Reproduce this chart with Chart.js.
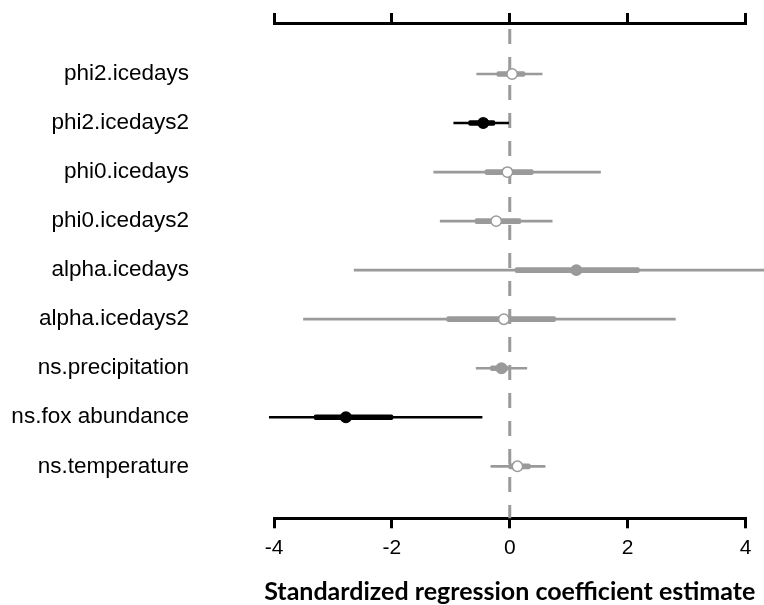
<!DOCTYPE html>
<html lang="en">
<head>
    <meta charset="UTF-8">
    <title>Coefficient estimates</title>
    <script src="https://cdn.jsdelivr.net/npm/chart.js@4.4.3/dist/chart.umd.min.js"></script>
    <style>
        html, body { margin: 0; padding: 0; background: #fff; }
        #chart { display: block; }
    </style>
</head>

<body>
    <canvas id="chart" width="764" height="605"></canvas>
    <script>
        // model terms, top to bottom
        const terms = ['phi2.icedays', 'phi2.icedays2', 'phi0.icedays', 'phi0.icedays2', 'alpha.icedays',
            'alpha.icedays2', 'ns.precipitation', 'ns.fox abundance', 'ns.temperature'];
        // posterior means
        const estimate = [0.04, -0.45, -0.04, -0.23, 1.13, -0.10, -0.14, -2.78, 0.13];
        // 95% credible intervals
        const lower95 = [-0.56, -0.95, -1.29, -1.18, -2.64, -3.50, -0.57, -4.08, -0.32];
        const upper95 = [0.55, -0.02, 1.54, 0.72, 4.40, 2.81, 0.29, -0.47, 0.60];
        // 50% credible intervals
        const lower50 = [-0.22, -0.70, -0.42, -0.59, 0.09, -1.07, -0.33, -3.32, -0.02];
        const upper50 = [0.26, -0.25, 0.40, 0.19, 2.20, 0.78, -0.03, -1.98, 0.35];
        const xTicks = [-4, -2, 0, 2, 4];
        const xTitle = 'Standardized regression coefficient estimate';

        const GREY = '#9a9a9a';

        function excludesZero(lo, hi) {
            return lo > 0 || hi < 0;
        }

        // black = 95% interval clear of zero, grey filled = only 50% clear, open = neither
        const lineColor = terms.map((t, i) => excludesZero(lower95[i], upper95[i]) ? '#000' : GREY);
        const pointFill = terms.map((t, i) => {
            if (excludesZero(lower95[i], upper95[i])) return '#000';
            if (excludesZero(lower50[i], upper50[i])) return GREY;
            return '#fff';
        });

        // dashed reference line at zero
        const zeroLine = {
            id: 'zeroLine',
            beforeDatasetsDraw(chart) {
                const { ctx, chartArea, scales } = chart;
                const x = scales.x.getPixelForValue(0);
                ctx.save();
                ctx.strokeStyle = GREY;
                ctx.lineWidth = 3;
                ctx.setLineDash([15, 13]);
                ctx.beginPath();
                ctx.moveTo(x, chartArea.top + 6);
                ctx.lineTo(x, chartArea.bottom);
                ctx.stroke();
                ctx.restore();
            }
        };

        // axis title drawn by hand: the built-in one gets squeezed to the axis width
        const axisTitle = {
            id: 'axisTitle',
            afterDraw(chart) {
                const { ctx, chartArea } = chart;
                ctx.save();
                ctx.font = 'bold 25px Lato';
                ctx.fillStyle = '#000';
                ctx.textAlign = 'center';
                ctx.textBaseline = 'alphabetic';
                ctx.fillText(xTitle, (chartArea.left + chartArea.right) / 2, 600);
                ctx.restore();
            }
        };

        const axisLine = {
            display: true,
            drawOnChartArea: false,
            drawTicks: true,
            tickLength: 10,
            tickWidth: 3,
            tickColor: '#000',
            lineWidth: 3,
            color: '#000'
        };

        new Chart(document.getElementById('chart'), {
            type: 'bar',
            data: {
                datasets: [{
                    label: '95%',
                    data: terms.map((t, i) => ({ y: i, x: [lower95[i], upper95[i]] })),
                    backgroundColor: lineColor,
                    barThickness: 2,
                    grouped: false,
                    clip: false,
                    order: 3
                }, {
                    label: '50%',
                    data: terms.map((t, i) => ({ y: i, x: [lower50[i], upper50[i]] })),
                    backgroundColor: lineColor,
                    barThickness: 5,
                    borderRadius: 2,
                    borderSkipped: false,
                    grouped: false,
                    clip: false,
                    order: 2
                }, {
                    type: 'scatter',
                    label: 'estimate',
                    data: terms.map((t, i) => ({ x: estimate[i], y: i })),
                    pointRadius: 5.2,
                    pointBackgroundColor: pointFill,
                    pointBorderColor: lineColor,
                    pointBorderWidth: 1.5,
                    clip: false,
                    order: 1
                }]
            },
            plugins: [zeroLine, axisTitle],
            options: {
                responsive: false,
                animation: false,
                indexAxis: 'y',
                layout: {
                    padding: { top: 13, right: 18.5, left: 0, bottom: 36.5 }
                },
                plugins: {
                    legend: { display: false },
                    tooltip: { enabled: false }
                },
                scales: {
                    x: {
                        type: 'linear',
                        position: 'bottom',
                        min: -4,
                        max: 4,
                        offset: false,
                        afterBuildTicks: axis => {
                            axis.ticks = xTicks.map(v => ({ value: v }));
                        },
                        grid: axisLine,
                        border: { display: true, color: '#000', width: 3 },
                        ticks: {
                            color: '#000',
                            padding: 7.5,
                            font: { family: 'Liberation Sans', size: 21 }
                        }
                    },
                    xTop: {
                        type: 'linear',
                        position: 'top',
                        axis: 'x',
                        min: -4,
                        max: 4,
                        offset: false,
                        afterBuildTicks: axis => {
                            axis.ticks = xTicks.map(v => ({ value: v }));
                        },
                        grid: axisLine,
                        border: { display: true, color: '#000', width: 3 },
                        ticks: { display: false }
                    },
                    y: {
                        type: 'linear',
                        reverse: true,
                        min: -1.04,
                        max: 9.06,
                        offset: false,
                        afterBuildTicks: axis => {
                            axis.ticks = terms.map((t, i) => ({ value: i }));
                        },
                        afterFit: scale => {
                            scale.width = 274;
                            scale.paddingTop = 0;
                            scale.paddingBottom = 0;
                        },
                        // hidden tick marks, their length keeps the labels clear of the plot
                        grid: { display: false, drawTicks: true, tickLength: 82 },
                        border: { display: false },
                        ticks: {
                            color: '#000',
                            padding: 3,
                            font: { family: 'Liberation Sans', size: 22.5 },
                            callback: value => terms[value]
                        }
                    }
                }
            }
        });
    </script>
</body>

</html>
